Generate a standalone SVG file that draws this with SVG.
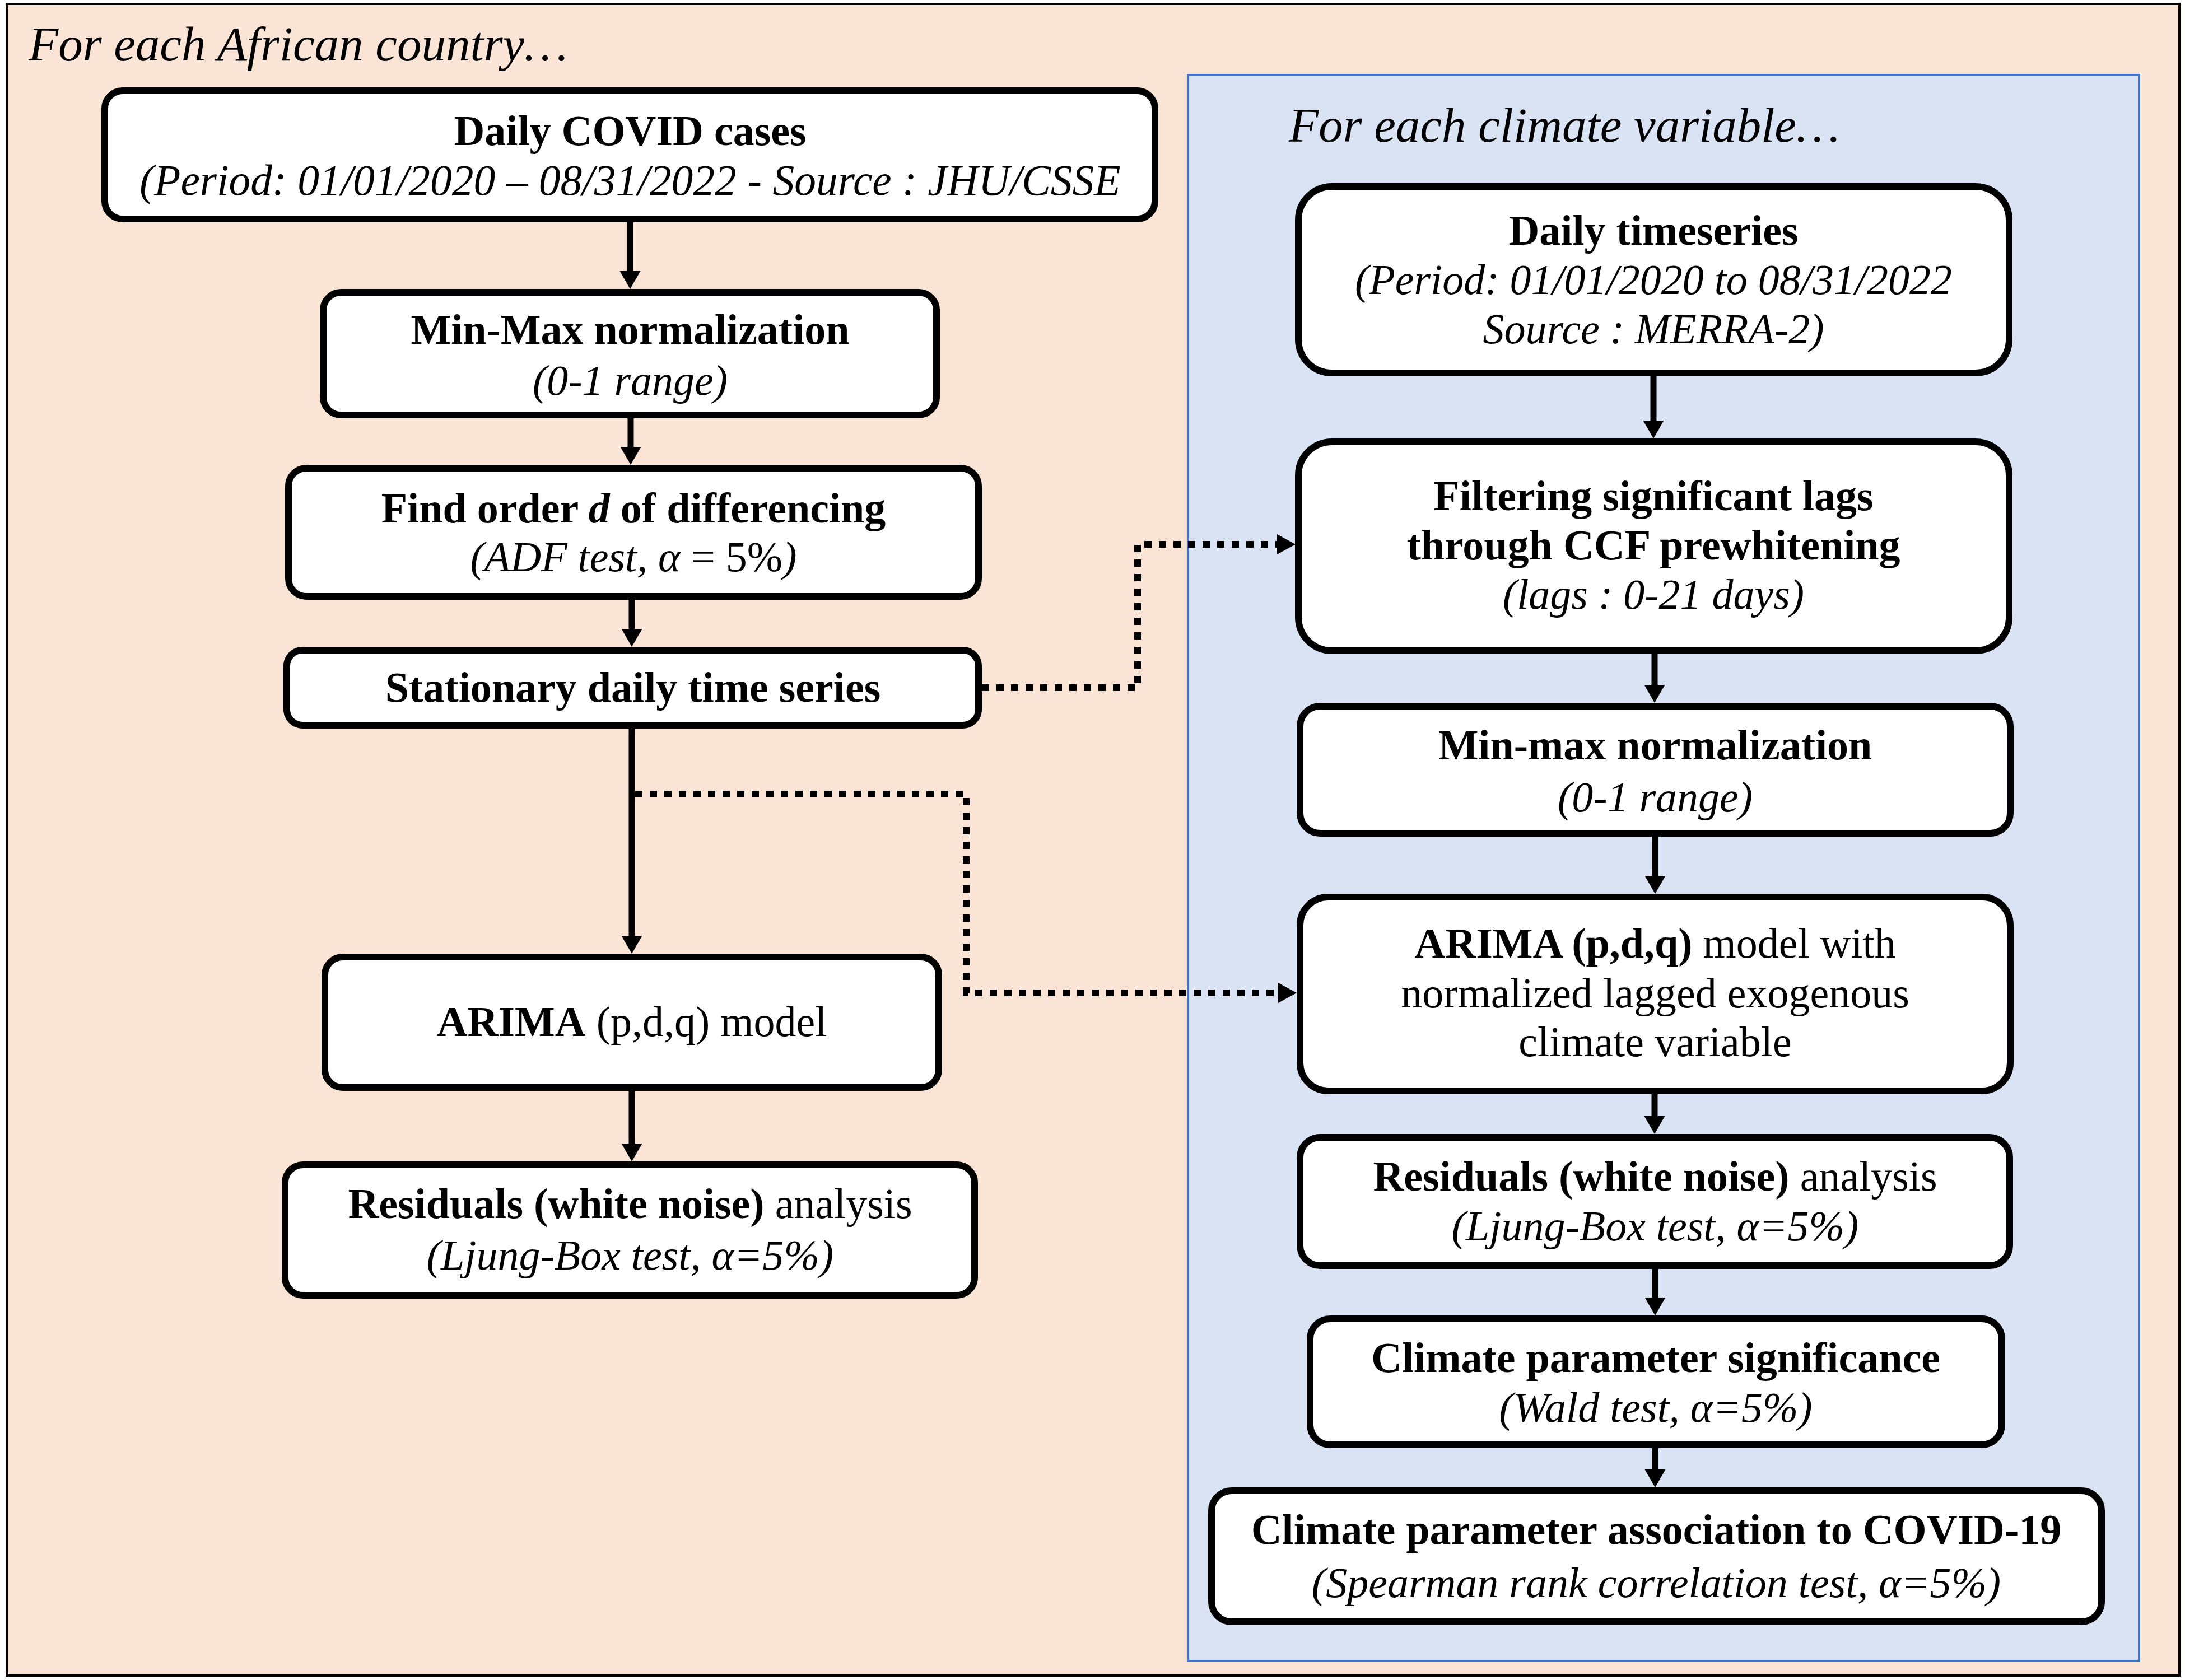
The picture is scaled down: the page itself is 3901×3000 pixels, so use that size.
<svg xmlns="http://www.w3.org/2000/svg" width="3901" height="3000" viewBox="0 0 3901 3000">
<style>
.box{fill:#fff;stroke:#000;stroke-width:12}
.t{font-family:"Liberation Serif","Times New Roman",serif;font-size:76px;text-anchor:middle;fill:#000}
.b{font-weight:bold}
.i{font-style:italic}
.hdr{font-family:"Liberation Serif","Times New Roman",serif;font-size:87px;font-style:italic;fill:#000}
.sol{fill:none;stroke:#000;stroke-width:11}
.dot{fill:none;stroke:#000;stroke-width:12;stroke-dasharray:13 13}
</style>
<defs>
<marker id="ah" markerUnits="userSpaceOnUse" markerWidth="40" markerHeight="40" refX="0" refY="18.5" orient="auto"><path d="M0,0 L32,18.5 L0,37 Z" fill="#000"/></marker>
<marker id="ahd" markerUnits="userSpaceOnUse" markerWidth="40" markerHeight="40" refX="0" refY="18" orient="auto"><path d="M0,0 L33,18 L0,36 Z" fill="#000"/></marker>
</defs>
<rect id="outer" x="12" y="7" width="3879" height="2985" fill="#FAE4D6" stroke="#000" stroke-width="4"/>
<rect id="climate-frame" x="2121" y="134" width="1698" height="2832" fill="#DAE3F3" stroke="#4472C4" stroke-width="4"/>
<text class="hdr" x="51" y="108">For each African country…</text>
<text class="hdr" x="2301" y="253">For each climate variable…</text>

<g id="connectors">
<path class="sol" d="M1125,397 V484" marker-end="url(#ah)"/>
<path class="sol" d="M1126,747 V798" marker-end="url(#ah)"/>
<path class="sol" d="M1128,1071 V1123" marker-end="url(#ah)"/>
<path class="sol" d="M1128,1301 V1671" marker-end="url(#ah)"/>
<path class="sol" d="M1128,1948 V2042" marker-end="url(#ah)"/>
<path class="sol" d="M2952,672 V751" marker-end="url(#ah)"/>
<path class="sol" d="M2954,1168 V1223" marker-end="url(#ah)"/>
<path class="sol" d="M2955,1494 V1564" marker-end="url(#ah)"/>
<path class="sol" d="M2954,1954 V1993" marker-end="url(#ah)"/>
<path class="sol" d="M2955,2266 V2317" marker-end="url(#ah)"/>
<path class="sol" d="M2955,2586 V2624" marker-end="url(#ah)"/>
<path class="dot" d="M1753,1228 H2031 V972 H2280" marker-end="url(#ahd)"/>
<path class="dot" d="M1134,1418 H1725 V1773 H2282" marker-end="url(#ahd)"/>
</g>

<g id="n-covid">
<rect class="box" x="187" y="162" width="1875" height="229" rx="32"/>
<text class="t b" x="1125" y="259">Daily COVID cases</text>
<text class="t i" x="1125" y="348" style="font-size:77.5px">(Period: 01/01/2020 – 08/31/2022 - Source : JHU/CSSE</text>
</g>
<g id="n-minmax-left">
<rect class="box" x="577" y="522" width="1095" height="219" rx="32"/>
<text class="t b" x="1125" y="614">Min-Max normalization</text>
<text class="t i" x="1125" y="705">(0-1 range)</text>
</g>
<g id="n-order">
<rect class="box" x="515" y="836" width="1232" height="229" rx="32"/>
<text class="t b" x="1131" y="933">Find order <tspan class="i">d</tspan> of differencing</text>
<text class="t" x="1131" y="1020"><tspan class="i">(ADF test, α</tspan> = 5%<tspan class="i">)</tspan></text>
</g>
<g id="n-stationary">
<rect class="box" x="512" y="1161" width="1235" height="134" rx="28"/>
<text class="t b" x="1130" y="1253">Stationary daily time series</text>
</g>
<g id="n-arima-left">
<rect class="box" x="580" y="1709" width="1096" height="233" rx="32"/>
<text class="t" x="1128" y="1850"><tspan class="b">ARIMA</tspan> (p,d,q) model</text>
</g>
<g id="n-resid-left">
<rect class="box" x="509" y="2080" width="1231" height="233" rx="32"/>
<text class="t" x="1125" y="2175"><tspan class="b">Residuals (white noise)</tspan> analysis</text>
<text class="t i" x="1125" y="2267">(Ljung-Box test, α=5%)</text>
</g>

<g id="n-daily-ts">
<rect class="box" x="2318" y="333" width="1269" height="333" rx="60"/>
<text class="t b" x="2952" y="437">Daily timeseries</text>
<text class="t i" x="2952" y="525">(Period: 01/01/2020 to 08/31/2022</text>
<text class="t i" x="2952" y="613">Source : MERRA-2)</text>
</g>
<g id="n-filter">
<rect class="box" x="2318" y="789" width="1269" height="373" rx="60"/>
<text class="t b" x="2952" y="911">Filtering significant lags</text>
<text class="t b" x="2952" y="999">through CCF prewhitening</text>
<text class="t i" x="2952" y="1087">(lags : 0-21 days)</text>
</g>
<g id="n-minmax-right">
<rect class="box" x="2321" y="1261" width="1268" height="227" rx="36"/>
<text class="t b" x="2955" y="1356">Min-max normalization</text>
<text class="t i" x="2955" y="1449">(0-1 range)</text>
</g>
<g id="n-arima-right">
<rect class="box" x="2321" y="1602" width="1268" height="346" rx="50"/>
<text class="t" x="2955" y="1710"><tspan class="b">ARIMA (p,d,q)</tspan> model with</text>
<text class="t" x="2955" y="1799">normalized lagged exogenous</text>
<text class="t" x="2955" y="1886">climate variable</text>
</g>
<g id="n-resid-right">
<rect class="box" x="2321" y="2031" width="1267" height="229" rx="36"/>
<text class="t" x="2955" y="2126"><tspan class="b">Residuals (white noise)</tspan> analysis</text>
<text class="t i" x="2955" y="2215">(Ljung-Box test, α=5%)</text>
</g>
<g id="n-signif">
<rect class="box" x="2339" y="2355" width="1235" height="225" rx="36"/>
<text class="t b" x="2956" y="2450">Climate parameter significance</text>
<text class="t i" x="2956" y="2539">(Wald test, α=5%)</text>
</g>
<g id="n-assoc">
<rect class="box" x="2163" y="2662" width="1589" height="234" rx="36"/>
<text class="t b" x="2957" y="2757">Climate parameter association to COVID-19</text>
<text class="t i" x="2957" y="2852">(Spearman rank correlation test, α=5%)</text>
</g>
</svg>
